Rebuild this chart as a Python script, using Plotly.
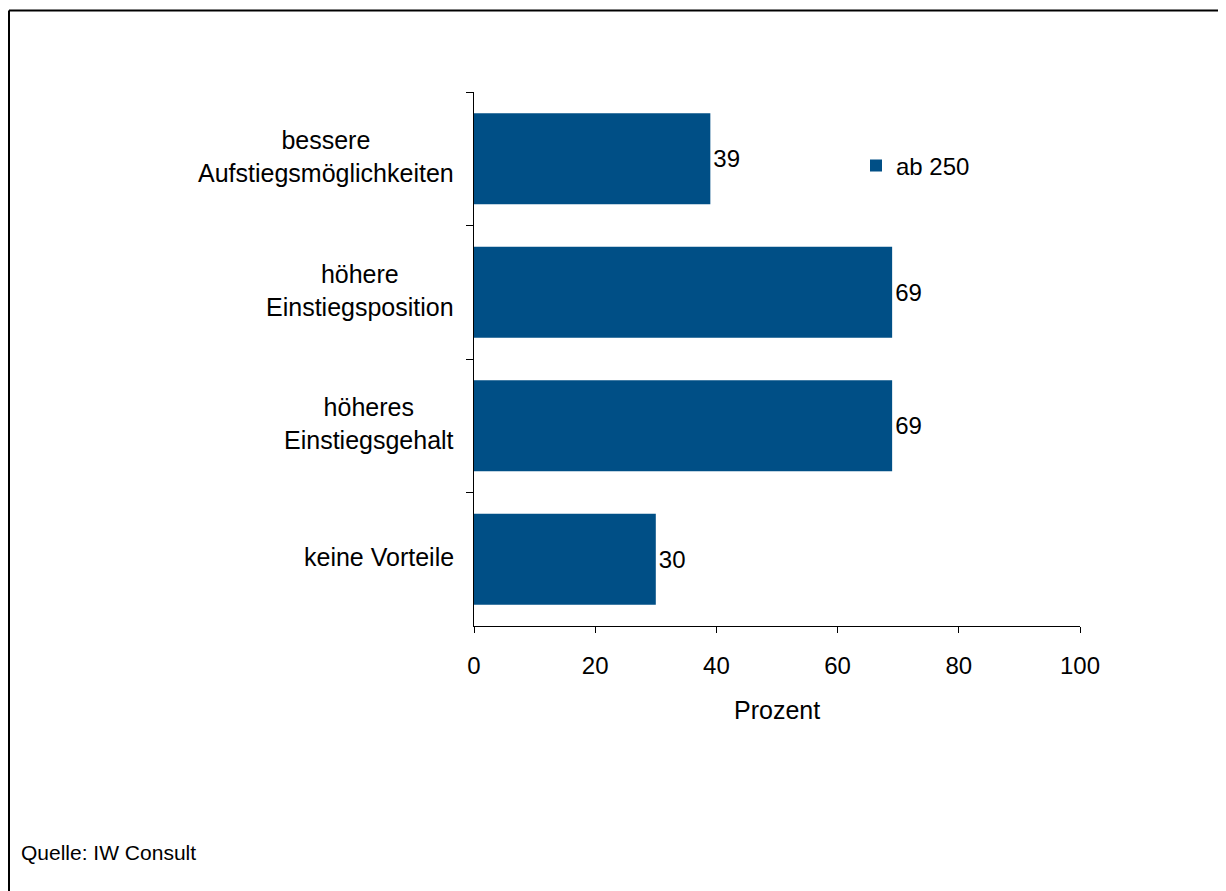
import plotly.graph_objects as go

# chart data (top to bottom)
categories = [
    "bessere<br>Aufstiegsmöglichkeiten",
    "höhere<br>Einstiegsposition",
    "höheres<br>Einstiegsgehalt",
    "keine Vorteile",
]
values = [39, 69, 69, 30]
series_name = "ab 250"
x_ticks = [0, 20, 40, 60, 80, 100]
source_text = "Quelle: IW Consult"
x_title = "Prozent"

BAR_COLOR = "#004f86"
FONT = "Liberation Sans, Arial, sans-serif"

# page body adds an 8px margin, so the figure is a bit smaller than the window
OFF = 8
W, H = 1226 - OFF, 891 - OFF
# plot area in window pixels: x 474..1080, y 92..626
L, T = 474 - OFF, 92 - OFF
plot_w = 1080 - 474
plot_h = 626 - 92
R = W - L - plot_w
B = H - T - plot_h


def px_x(px):
    # window x pixel -> paper coordinate
    return (px - OFF - L) / plot_w


def px_y(py):
    # window y pixel -> paper coordinate
    return (T + plot_h - (py - OFF)) / plot_h


fig = go.Figure()

fig.add_trace(go.Bar(
    y=categories,
    x=values,
    orientation="h",
    name=series_name,
    marker=dict(color=BAR_COLOR, line=dict(width=0)),
    text=[str(v) for v in values],
    textposition="outside",
    textfont=dict(size=24, color="#000000"),
    cliponaxis=False,
    showlegend=True,
))

# category labels, centred lines like the original
for cat in categories:
    fig.add_annotation(
        x=0, xref="paper", y=cat, yref="y",
        text=cat, showarrow=False,
        xanchor="right", yanchor="middle", align="center",
        xshift=-18, yshift=2,
        font=dict(size=25, color="#000000", family=FONT),
    )

fig.add_annotation(
    x=0.5, xref="paper", y=px_y(710), yref="paper",
    text=x_title, showarrow=False, xanchor="center", yanchor="middle",
    font=dict(size=25, color="#000000", family=FONT),
)

fig.add_annotation(
    x=px_x(19), xref="paper", y=px_y(852), yref="paper",
    text=source_text, showarrow=False, xanchor="left", yanchor="middle",
    font=dict(size=21, color="#000000", family=FONT),
)

# outer frame (top and left edges visible)
fig.add_shape(type="line", xref="paper", yref="paper",
              x0=px_x(9), x1=px_x(1240), y0=px_y(10.5), y1=px_y(10.5),
              line=dict(color="#000000", width=2))
fig.add_shape(type="line", xref="paper", yref="paper",
              x0=px_x(9), x1=px_x(9), y0=px_y(10.5), y1=px_y(905),
              line=dict(color="#000000", width=2))

fig.update_layout(
    width=W, height=H,
    margin=dict(l=L, r=R, t=T, b=B),
    paper_bgcolor="#ffffff",
    plot_bgcolor="#ffffff",
    font=dict(family=FONT, size=24, color="#000000"),
    bargap=0.32,
    showlegend=True,
    legend=dict(
        x=px_x(856), y=px_y(166), xanchor="left", yanchor="middle",
        bgcolor="rgba(0,0,0,0)",
        font=dict(size=24, color="#000000", family=FONT),
        itemwidth=30,
    ),
    xaxis=dict(
        range=[0, 100],
        tickvals=x_ticks,
        ticks="outside", ticklen=6, tickcolor="#000000",
        showline=True, linecolor="#000000", linewidth=1,
        showgrid=False, zeroline=False,
        tickfont=dict(size=24),
        ticklabelstandoff=12,
    ),
    yaxis=dict(
        autorange="reversed",
        showticklabels=False,
        ticks="outside", ticklen=7, tickcolor="#000000",
        tickson="boundaries",
        showline=True, linecolor="#000000", linewidth=1,
        showgrid=False, zeroline=False,
    ),
)

fig.write_html("out.html")
